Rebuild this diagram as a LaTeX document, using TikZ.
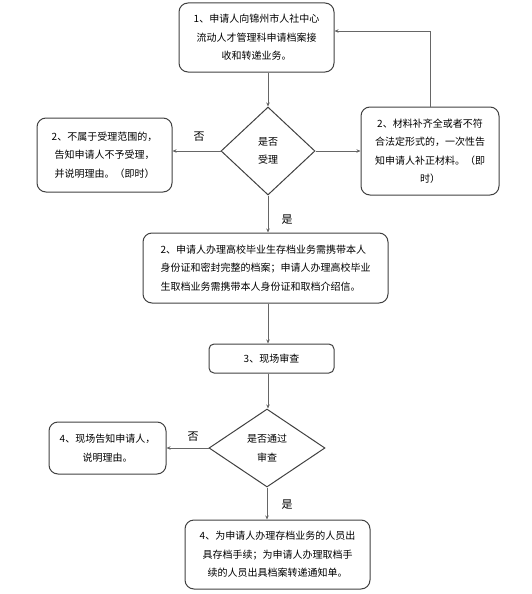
\documentclass[tikz,border=0pt]{standalone}
\usepackage{fontspec}
\setmainfont{Noto Sans CJK SC}
\usetikzlibrary{shapes.geometric,arrows.meta}
\begin{document}
\begin{tikzpicture}[x=1pt,y=-1pt,
    box/.style={draw=black!75,line width=1pt,rounded corners=9pt,align=center,inner sep=2pt,font=\fontsize{10}{18.5}\selectfont},
    choice/.style={diamond,draw=black!75,line width=1pt,inner sep=0pt,align=center,font=\fontsize{10}{18.5}\selectfont},
    arr/.style={draw=black!60,line width=0.9pt,-{Stealth[length=4pt,width=3.5pt]}},
    lab/.style={font=\fontsize{11}{12}\selectfont}]
  \useasboundingbox (0,0) rectangle (531,594);
  \node[box,minimum width=155,minimum height=69] (apply) at (256.5,37.5) {1、申请人向锦州市人社中心\\流动人才管理科申请档案接\\收和转递业务。};
  \node[choice,minimum width=94,minimum height=88] (accept) at (268,151) {是否\\受理};
  \node[box,minimum width=135,minimum height=74] (reject) at (104.5,155) {2、不属于受理范围的，\\告知申请人不予受理，\\并说明理由。（即时）};
  \node[box,minimum width=138,minimum height=88] (fix) at (430,151) {2、材料补齐全或者不符\\合法定形式的，一次性告\\知申请人补正材料。（即\\时）};
  \node[box,minimum width=245,minimum height=70,align=left] (docs) at (265.5,268) {2、申请人办理高校毕业生存档业务需携带本人\\身份证和密封完整的档案；申请人办理高校毕业\\生取档业务需携带本人身份证和取档介绍信。};
  \node[box,minimum width=125,minimum height=29,rounded corners=5pt] (check) at (271.5,358.5) {3、现场审查};
  \node[choice,minimum width=116,minimum height=78] (pass) at (267,448) {是否通过\\审查};
  \node[box,minimum width=117,minimum height=52] (tell) at (107.5,448) {4、现场告知申请人，\\说明理由。};
  \node[box,minimum width=185,minimum height=69] (issue) at (277.5,554.5) {4、为申请人办理存档业务的人员出\\具存档手续；为申请人办理取档手\\续的人员出具档案转递通知单。};
  \draw[arr] (apply.south -| accept) -- (accept.north);
  \draw[arr] (accept.west) -- (accept.west -| reject.east);
  \draw[arr] (accept.east) -- (accept.east -| fix.west);
  \draw[arr] (fix.north) |- ([yshift=6.5pt]apply.east);
  \draw[arr] (accept.south) -- (accept.south |- docs.north);
  \draw[arr] (docs.south -| accept) -- (check.north -| accept);
  \draw[arr] (check.south -| accept) -- (pass.north -| accept);
  \draw[arr] (pass.west) -- (pass.west -| tell.east);
  \draw[arr] (pass.south) -- (pass.south |- issue.north);
  \node[lab] (no1) at (199,137) {否};
  \node[lab] (yes1) at (287,220) {是};
  \node[lab] (no2) at (193,437) {否};
  \node[lab] (yes2) at (287,505) {是};
\end{tikzpicture}
\end{document}
